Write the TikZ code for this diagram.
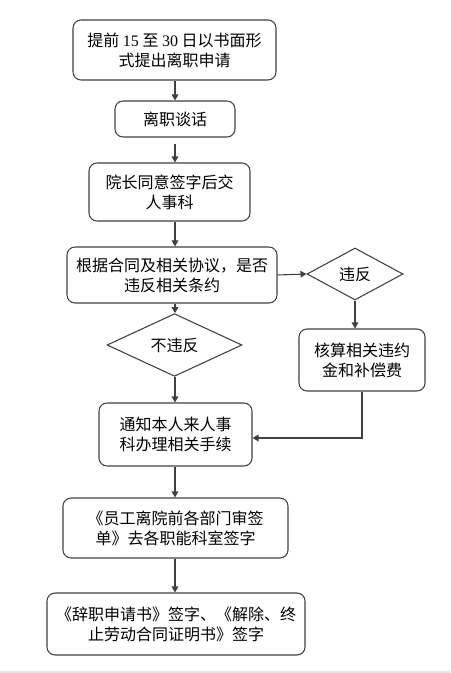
\documentclass[tikz,border=0pt]{standalone}
\usepackage{fontspec}
\usepackage{tikz}
\usetikzlibrary{shapes.geometric,arrows.meta,calc}
\setmainfont{Noto Sans CJK SC}
\newfontfamily\digitfont{Liberation Serif}
\definecolor{linegray}{HTML}{404040}
\definecolor{bandgray}{HTML}{E4E4E4}

\begin{document}
\begin{tikzpicture}[x=0.75pt,y=-0.75pt,
  box/.style={draw=linegray,line width=0.8pt,rounded corners=6pt,align=center,inner sep=0pt},
  choice/.style={draw=linegray,line width=0.8pt,diamond,inner sep=0pt},
  link/.style={draw=linegray,line width=0.8pt,-{Triangle[length=4.5pt,width=5pt]}}]
\tikzstyle{every node}+=[font=\fontsize{12pt}{15pt}\selectfont]
\useasboundingbox (0,0) rectangle (450,673);
\fill [bandgray] (0,671) rectangle (450,673);
% boxes of the main column
\node [box,minimum width=152.25pt,minimum height=45pt] (apply) at (174.5,50) {提前 {\digitfont 15} 至 {\digitfont 30} 日以书面形\\式提出离职申请};
\node [box,minimum width=90pt,minimum height=27pt] (talk) at (175,119) {离职谈话};
\node [box,minimum width=120.75pt,minimum height=43.5pt] (sign) at (169.5,192) {院长同意签字后交\\人事科};
\node [box,minimum width=157.5pt,minimum height=42pt] (check) at (172,275) {根据合同及相关协议，是否\\违反相关条约};
\node [choice,minimum width=72pt,minimum height=39pt] (breach) at (355,274) {违反};
\node [choice,minimum width=101.25pt,minimum height=39pt] (nobreach) at (174.5,345) {不违反};
\node [box,minimum width=94.5pt,minimum height=46.5pt] (calc) at (362,360) {核算相关违约\\金和补偿费};
\node [box,minimum width=114.75pt,minimum height=47.25pt] (notify) at (175.5,434.5) {通知本人来人事\\科办理相关手续};
\node [box,minimum width=168.75pt,minimum height=45pt] (form) at (175.5,528) {《员工离院前各部门审签\\单》去各职能科室签字};
\node [box,minimum width=193.5pt,minimum height=46.5pt] (final) at (176,624) {《辞职申请书》签字、《解除、终\\止劳动合同证明书》签字};
% connectors
\coordinate (spine) at (175,0);
\draw [link] (spine |- apply.south) -- (spine |- talk.north);
\draw [link,shorten <=4.5pt] (spine |- talk.south) -- (spine |- sign.north);
\draw [link] (spine |- sign.south) -- (spine |- check.north);
\draw [link] (check.east) -- (breach.west);
\draw [link] (spine |- check.south) -- (spine |- nobreach.north);
\draw [link] (breach.south) -- (breach.south |- calc.north);
\draw [link] (spine |- nobreach.south) -- (spine |- notify.north);
\coordinate (back) at ($(notify.east)+(0,3.5)$);
\draw [link] (calc.south) |- (back);
\draw [link] (spine |- notify.south) -- (spine |- form.north);
\draw [link] (spine |- form.south) -- (spine |- final.north);
\end{tikzpicture}
\end{document}
